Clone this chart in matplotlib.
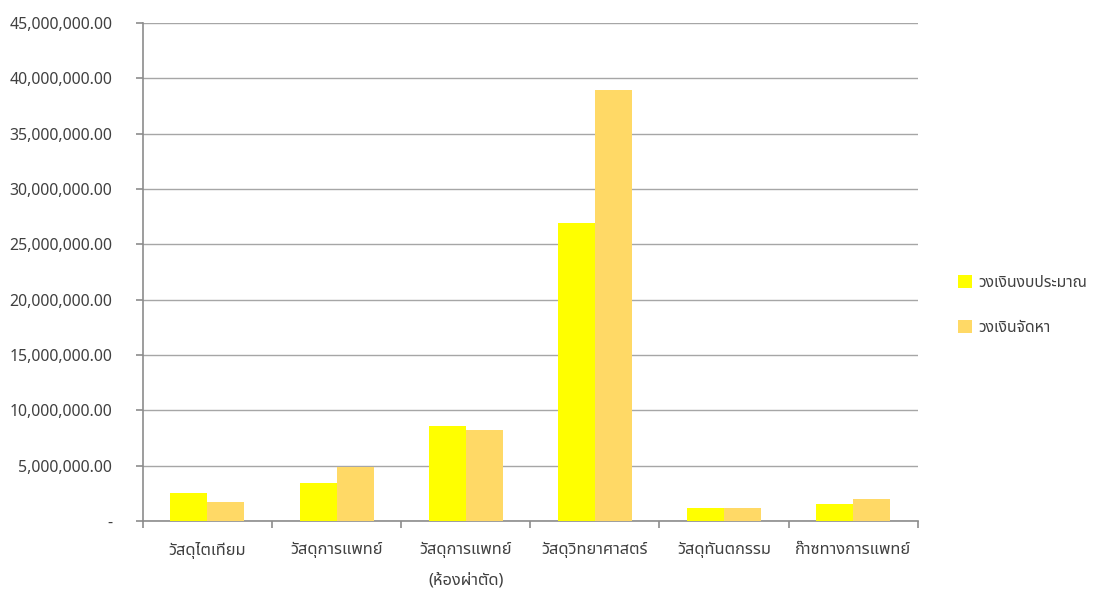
import matplotlib
matplotlib.use("Agg")
import matplotlib.pyplot as plt
import numpy as np
from matplotlib import font_manager, ft2font
from matplotlib.ticker import FuncFormatter, MultipleLocator

categories = [
    "วัสดุไตเทียม",
    "วัสดุการแพทย์",
    "วัสดุการแพทย์\n(ห้องผ่าตัด)",
    "วัสดุวิทยาศาสตร์",
    "วัสดุทันตกรรม",
    "ก๊าซทางการแพทย์",
]
budget = [2560000, 3430000, 8580000, 26950000, 1140000, 1500000]
procured = [1720000, 4880000, 8190000, 38930000, 1140000, 1990000]
series_names = ["วงเงินงบประมาณ", "วงเงินจัดหา"]


def find_thai_font():
    sample = "วัสดุการแพทย์"
    preferred = ["Tahoma", "Noto Sans Thai", "Noto Sans Thai UI", "Loma", "Garuda",
                 "Sarabun", "TH Sarabun New", "Kinnari", "Norasi", "Waree"]
    candidates = []
    for fe in font_manager.fontManager.ttflist:
        try:
            cmap = ft2font.FT2Font(fe.fname).get_charmap()
        except Exception:
            continue
        if all(ord(c) in cmap for c in sample):
            candidates.append(fe.name)
    for name in preferred:
        if name in candidates:
            return name
    return candidates[0] if candidates else None


thai = find_thai_font()
families = ([thai] if thai else []) + ["DejaVu Sans"]
plt.rcParams["font.family"] = families

fig = plt.figure(figsize=(10.99, 5.92), dpi=100)
ax = fig.add_axes([0.130, 0.120, 0.705, 0.841])

x = np.arange(len(categories))
w = 0.287
ax.bar(x - w / 2, budget, w, color="#FFFF00", label=series_names[0], zorder=3)
ax.bar(x + w / 2, procured, w, color="#FFD966", label=series_names[1], zorder=3)

ax.set_xlim(-0.5, len(categories) - 0.5)
ax.set_ylim(0, 45000000)
ax.yaxis.set_major_locator(MultipleLocator(5000000))


def money(v, pos):
    if abs(v) < 1:
        return "-"
    return f"{v:,.2f}"


ax.yaxis.set_major_formatter(FuncFormatter(money))
ax.grid(axis="y", color="#a6a6a6", linewidth=1, zorder=0)
ax.set_axisbelow(True)

for side in ("top", "right"):
    ax.spines[side].set_visible(False)
for side in ("left", "bottom"):
    ax.spines[side].set_color("#8c8c8c")
    ax.spines[side].set_linewidth(1.2)

ax.set_xticks(x)
ax.set_xticklabels(categories, fontsize=11.8, linespacing=2.2, color="#404040")
ax.tick_params(axis="x", length=0, pad=15)
ax.set_xticks(np.arange(len(categories) + 1) - 0.5, minor=True)
ax.tick_params(axis="x", which="minor", length=5, color="#8c8c8c", width=1.2)
ax.tick_params(axis="y", length=5, color="#8c8c8c", width=1.2, pad=17,
               labelsize=11.4, labelcolor="#404040")

leg = ax.legend(loc="center left", bbox_to_anchor=(1.034, 0.433), frameon=False,
                fontsize=11.3, handlelength=0.9, handleheight=0.9,
                handletextpad=0.4, labelspacing=1.8)
for t in leg.get_texts():
    t.set_color("#404040")

fig.savefig("out.png", dpi=100)
